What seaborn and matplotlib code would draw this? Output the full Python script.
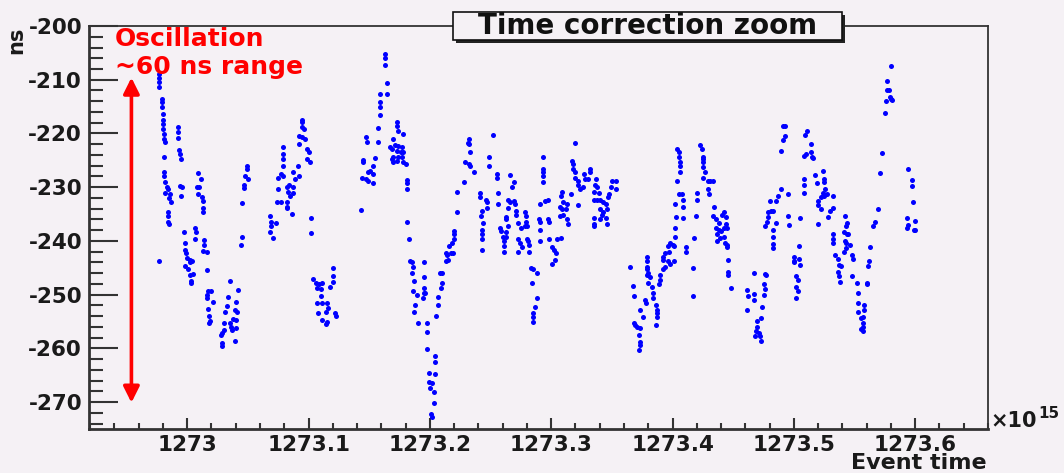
import matplotlib
matplotlib.use("Agg")
import matplotlib.pyplot as plt
from matplotlib.patches import Rectangle
from matplotlib.ticker import MultipleLocator, FuncFormatter
import seaborn as sns
import pandas as pd

# Event time (units of 1e15) and time correction (ns), grouped by burst
burst_a = [
    (1272.977, -209.0), (1272.977, -209.7), (1272.977, -210.4), (1272.977, -211.4),
    (1272.979, -213.6), (1272.979, -214.2), (1272.979, -215.1), (1272.980, -216.4),
    (1272.980, -217.4), (1272.980, -218.3), (1272.980, -219.2), (1272.981, -220.1),
    (1272.981, -221.1), (1272.982, -221.6), (1272.981, -224.3), (1272.981, -227.2),
    (1272.981, -228.0), (1272.982, -229.1), (1272.983, -229.9), (1272.984, -230.4),
    (1272.982, -231.0), (1272.986, -231.3), (1272.985, -232.1), (1272.987, -232.8),
    (1272.984, -234.7), (1272.984, -235.4), (1272.984, -236.4), (1272.985, -236.9),
    (1272.977, -243.7),
    (1272.992, -218.8), (1272.992, -219.8), (1272.992, -220.9), (1272.993, -223.1),
    (1272.994, -223.9), (1272.995, -224.8), (1272.994, -229.7), (1272.996, -229.9),
    (1272.995, -231.7), (1272.997, -238.4), (1272.998, -240.3), (1272.998, -241.6),
    (1272.999, -242.2), (1273.000, -243.1), (1273.002, -243.5), (1273.002, -244.0),
    (1273.004, -243.8), (1272.998, -244.6), (1273.001, -245.3), (1273.002, -246.3),
    (1273.005, -246.1), (1273.003, -247.4), (1273.003, -247.8),
]
burst_b = [
    (1273.009, -227.4), (1273.011, -228.4), (1273.008, -229.9), (1273.010, -229.9),
    (1273.009, -231.3), (1273.012, -231.9), (1273.013, -232.6), (1273.013, -233.8),
    (1273.013, -234.7), (1273.006, -237.5), (1273.007, -238.4), (1273.006, -239.6),
    (1273.014, -239.9), (1273.014, -240.7), (1273.013, -241.8), (1273.016, -242.0),
    (1273.016, -245.5),
    (1273.017, -249.3), (1273.020, -249.4), (1273.016, -250.0), (1273.016, -250.7),
    (1273.021, -251.3), (1273.017, -252.6), (1273.018, -253.9), (1273.019, -254.9),
    (1273.018, -255.2),
    (1273.035, -247.4), (1273.042, -249.1), (1273.034, -250.4), (1273.040, -251.3),
    (1273.033, -252.1), (1273.039, -252.8), (1273.041, -253.2), (1273.031, -253.2),
    (1273.038, -254.5), (1273.040, -254.7), (1273.030, -255.2), (1273.035, -255.2),
    (1273.036, -256.0), (1273.040, -256.2), (1273.030, -256.5), (1273.037, -256.5),
    (1273.029, -257.1), (1273.028, -257.5), (1273.039, -258.6), (1273.029, -259.0),
    (1273.029, -259.5),
    (1273.049, -226.1), (1273.049, -226.7), (1273.048, -228.0), (1273.050, -228.4),
    (1273.047, -229.5), (1273.047, -230.2), (1273.045, -233.0), (1273.045, -239.2),
    (1273.044, -240.7),
]
burst_c = [
    (1273.068, -235.4), (1273.069, -236.4), (1273.073, -236.6), (1273.069, -237.3),
    (1273.068, -238.4), (1273.071, -239.4), (1273.074, -232.8), (1273.077, -232.8),
    (1273.082, -232.8), (1273.082, -233.6), (1273.082, -233.8), (1273.086, -234.9),
    (1273.075, -230.4), (1273.075, -228.2), (1273.077, -227.6), (1273.079, -228.0),
    (1273.079, -226.1), (1273.079, -224.8), (1273.079, -223.9), (1273.079, -222.6),
    (1273.082, -229.9), (1273.084, -229.5), (1273.087, -229.9), (1273.083, -230.8),
    (1273.087, -231.0), (1273.085, -231.7), (1273.087, -227.2), (1273.091, -226.1),
    (1273.092, -228.0), (1273.089, -228.5), (1273.095, -217.4), (1273.095, -217.9),
    (1273.095, -218.8), (1273.096, -219.2), (1273.092, -220.5), (1273.095, -220.7),
    (1273.092, -222.0), (1273.097, -221.1), (1273.099, -222.9), (1273.100, -223.5),
    (1273.099, -224.8), (1273.101, -225.4), (1273.102, -235.8), (1273.102, -238.6),
    (1273.120, -245.1), (1273.120, -246.5), (1273.120, -247.6), (1273.104, -247.0),
    (1273.106, -247.8), (1273.109, -248.1), (1273.111, -247.8), (1273.107, -248.7),
    (1273.110, -248.9), (1273.118, -248.5), (1273.110, -250.2), (1273.107, -251.5),
    (1273.111, -251.5), (1273.115, -251.5), (1273.116, -252.4), (1273.114, -253.2),
    (1273.108, -253.4), (1273.122, -253.5), (1273.123, -253.9), (1273.111, -254.7),
    (1273.115, -255.0), (1273.114, -255.4),
]
burst_d = [
    (1273.163, -205.2), (1273.163, -206.0), (1273.163, -207.3), (1273.165, -210.6),
    (1273.159, -212.7), (1273.165, -212.7), (1273.159, -214.2), (1273.159, -215.1),
    (1273.159, -216.6), (1273.157, -219.0), (1273.147, -220.7), (1273.148, -221.5),
    (1273.157, -221.5), (1273.145, -225.0), (1273.145, -225.4), (1273.155, -224.6),
    (1273.153, -226.1), (1273.151, -226.9), (1273.153, -227.6), (1273.149, -227.1),
    (1273.144, -228.2), (1273.147, -228.5), (1273.149, -228.9), (1273.153, -229.3),
    (1273.143, -234.3),
    (1273.173, -217.9), (1273.173, -218.7), (1273.174, -219.6), (1273.178, -220.1),
    (1273.170, -221.1), (1273.167, -222.6), (1273.171, -222.2), (1273.174, -222.4),
    (1273.177, -222.6), (1273.169, -222.9), (1273.173, -223.3), (1273.176, -223.5),
    (1273.178, -223.5), (1273.170, -224.3), (1273.174, -224.3), (1273.177, -224.4),
    (1273.169, -224.8), (1273.173, -225.2), (1273.178, -225.4), (1273.170, -225.4),
    (1273.180, -225.7), (1273.181, -228.7), (1273.181, -229.3), (1273.181, -230.4),
    (1273.181, -236.4), (1273.183, -239.6),
    (1273.184, -243.8), (1273.185, -244.0), (1273.186, -244.8), (1273.185, -245.9),
    (1273.187, -247.4), (1273.186, -249.3), (1273.189, -250.0), (1273.188, -251.9),
    (1273.187, -253.2), (1273.190, -255.2), (1273.195, -244.0), (1273.195, -246.8),
    (1273.195, -248.7), (1273.195, -249.6), (1273.196, -249.6), (1273.194, -250.7),
    (1273.198, -255.2), (1273.198, -256.9), (1273.198, -260.1), (1273.204, -261.4),
    (1273.204, -262.5), (1273.199, -264.6), (1273.204, -264.7), (1273.199, -266.2),
    (1273.202, -266.4), (1273.200, -267.4), (1273.203, -268.1), (1273.203, -270.1),
    (1273.201, -272.2), (1273.202, -272.8),
    (1273.205, -253.9), (1273.207, -251.9), (1273.207, -250.4), (1273.209, -248.7),
    (1273.210, -247.9), (1273.208, -245.9), (1273.210, -245.9), (1273.213, -243.8),
    (1273.215, -243.5), (1273.214, -242.7), (1273.213, -242.2), (1273.217, -242.2),
    (1273.219, -242.2), (1273.216, -240.9), (1273.218, -240.3), (1273.220, -239.7),
    (1273.220, -238.8), (1273.220, -238.1), (1273.222, -234.7), (1273.222, -230.8),
]
burst_e = [
    (1273.232, -221.1), (1273.232, -222.0), (1273.231, -221.8), (1273.233, -223.5),
    (1273.229, -225.4), (1273.232, -225.7), (1273.233, -226.1), (1273.236, -227.2),
    (1273.228, -229.1), (1273.241, -231.0), (1273.241, -231.9), (1273.243, -234.5),
    (1273.242, -235.4), (1273.244, -236.6), (1273.243, -237.9), (1273.243, -238.8),
    (1273.243, -239.7), (1273.243, -241.6), (1273.246, -232.3), (1273.247, -232.8),
    (1273.247, -233.8), (1273.249, -224.3), (1273.249, -226.1), (1273.252, -220.3),
    (1273.255, -227.6), (1273.255, -228.2), (1273.256, -231.0), (1273.256, -233.2),
    (1273.258, -237.5), (1273.259, -238.2), (1273.260, -239.2), (1273.261, -240.1),
    (1273.261, -241.0), (1273.261, -242.0), (1273.263, -238.4), (1273.263, -239.2),
    (1273.266, -227.8), (1273.268, -230.0), (1273.269, -229.1), (1273.264, -232.3),
    (1273.266, -232.8), (1273.269, -232.6), (1273.270, -233.2), (1273.264, -233.8),
    (1273.263, -235.6), (1273.263, -236.0), (1273.264, -237.3), (1273.271, -234.5),
    (1273.271, -235.1), (1273.273, -236.6), (1273.273, -239.7), (1273.274, -240.3),
    (1273.273, -242.0), (1273.276, -241.2), (1273.275, -237.5), (1273.278, -234.7),
    (1273.279, -235.4), (1273.279, -236.4), (1273.278, -237.3), (1273.280, -237.3),
    (1273.280, -239.7), (1273.281, -240.1), (1273.282, -240.7), (1273.282, -242.0),
    (1273.283, -245.0), (1273.285, -245.3), (1273.288, -245.9), (1273.284, -247.9),
    (1273.288, -250.6), (1273.287, -252.2), (1273.285, -253.4), (1273.285, -254.1),
    (1273.285, -255.0), (1273.291, -233.2), (1273.290, -236.0), (1273.291, -236.4),
    (1273.291, -237.9), (1273.291, -240.1), (1273.293, -224.3), (1273.293, -226.7),
    (1273.293, -227.2), (1273.293, -228.0), (1273.293, -229.1), (1273.295, -232.6),
    (1273.297, -232.3), (1273.297, -236.0), (1273.298, -236.4), (1273.298, -239.7),
    (1273.301, -241.2), (1273.302, -241.6), (1273.303, -243.5), (1273.301, -244.2),
    (1273.304, -242.2), (1273.305, -239.7), (1273.309, -230.8), (1273.308, -231.7),
    (1273.310, -232.8), (1273.307, -233.6), (1273.309, -234.1), (1273.312, -234.1),
    (1273.310, -235.1), (1273.307, -235.4), (1273.313, -236.0), (1273.314, -236.9),
    (1273.308, -239.4), (1273.316, -231.3), (1273.322, -233.4), (1273.313, -233.2),
    (1273.320, -221.8), (1273.317, -225.2), (1273.318, -225.7), (1273.318, -226.7),
    (1273.320, -227.2), (1273.320, -228.2), (1273.322, -228.9), (1273.322, -229.5),
    (1273.326, -230.0), (1273.327, -227.6), (1273.328, -228.5), (1273.324, -230.4),
    (1273.332, -226.7), (1273.332, -227.2), (1273.330, -228.5), (1273.337, -228.5),
    (1273.336, -229.5), (1273.338, -230.0), (1273.335, -230.8), (1273.339, -231.0),
    (1273.338, -232.3), (1273.335, -232.3), (1273.340, -232.3), (1273.343, -232.8),
    (1273.345, -233.2), (1273.348, -231.3), (1273.347, -231.9), (1273.349, -230.0),
    (1273.350, -228.9), (1273.353, -228.9), (1273.353, -230.4), (1273.346, -234.1),
    (1273.340, -234.1), (1273.342, -235.1), (1273.340, -236.0), (1273.345, -235.8),
    (1273.343, -234.7), (1273.335, -235.8), (1273.335, -236.9), (1273.335, -237.3),
    (1273.346, -236.9),
]
burst_f = [
    (1273.365, -244.8), (1273.367, -248.3), (1273.368, -250.2), (1273.368, -255.2),
    (1273.369, -255.6), (1273.371, -256.0), (1273.373, -256.2), (1273.372, -257.5),
    (1273.373, -258.8), (1273.373, -259.3), (1273.372, -260.3), (1273.373, -252.8),
    (1273.376, -254.1), (1273.377, -250.9), (1273.378, -251.5), (1273.379, -242.9),
    (1273.379, -243.8), (1273.379, -244.8), (1273.379, -245.3), (1273.380, -245.9),
    (1273.379, -246.3), (1273.381, -246.8), (1273.380, -247.8), (1273.383, -248.5),
    (1273.384, -249.6), (1273.384, -250.6), (1273.386, -251.9), (1273.387, -252.8),
    (1273.387, -253.4), (1273.387, -254.1), (1273.386, -255.6), (1273.389, -248.1),
    (1273.390, -247.2), (1273.390, -246.3), (1273.392, -245.3), (1273.392, -243.5),
    (1273.392, -242.9), (1273.394, -242.2), (1273.396, -241.0), (1273.398, -240.3),
    (1273.400, -240.7), (1273.401, -241.0), (1273.397, -242.0), (1273.396, -243.8),
    (1273.398, -244.2), (1273.394, -244.8), (1273.401, -243.8), (1273.402, -239.2),
    (1273.402, -237.5), (1273.403, -235.6), (1273.402, -233.2), (1273.405, -231.3),
    (1273.406, -225.4), (1273.405, -223.5), (1273.404, -222.9), (1273.405, -224.4),
    (1273.406, -226.1), (1273.406, -227.1), (1273.404, -228.9), (1273.408, -231.3),
    (1273.409, -232.3), (1273.409, -233.6), (1273.409, -235.8), (1273.411, -241.2),
    (1273.411, -242.0), (1273.417, -250.2), (1273.417, -245.0), (1273.418, -239.4),
    (1273.419, -235.3), (1273.420, -231.0), (1273.420, -232.3), (1273.423, -222.2),
    (1273.424, -222.9), (1273.425, -224.3), (1273.425, -224.8), (1273.425, -225.4),
    (1273.425, -226.3), (1273.427, -227.1), (1273.425, -228.2), (1273.429, -228.9),
    (1273.431, -228.9), (1273.433, -228.9), (1273.429, -230.4), (1273.430, -231.3),
    (1273.434, -233.6), (1273.433, -235.4), (1273.436, -236.0), (1273.438, -236.6),
    (1273.441, -235.1), (1273.442, -234.7), (1273.444, -235.6), (1273.436, -237.5),
    (1273.438, -237.9), (1273.442, -237.5), (1273.445, -237.5), (1273.437, -238.8),
    (1273.439, -239.4), (1273.442, -239.2), (1273.437, -240.1), (1273.445, -240.7),
    (1273.445, -241.2), (1273.444, -236.9), (1273.440, -238.1), (1273.443, -240.3),
    (1273.446, -243.5), (1273.446, -245.7), (1273.446, -246.3), (1273.448, -248.7),
]
burst_g = [
    (1273.461, -249.1), (1273.462, -250.2), (1273.461, -252.8), (1273.467, -245.9),
    (1273.467, -249.8), (1273.467, -250.9), (1273.470, -254.9), (1273.470, -256.0),
    (1273.469, -256.7), (1273.471, -257.1), (1273.468, -257.6), (1273.472, -257.6),
    (1273.473, -258.6), (1273.473, -254.3), (1273.474, -252.2), (1273.475, -250.0),
    (1273.475, -248.1), (1273.476, -246.1), (1273.477, -246.3), (1273.476, -248.9),
    (1273.476, -237.3), (1273.478, -236.4), (1273.479, -234.7), (1273.481, -234.5),
    (1273.479, -235.6), (1273.480, -232.6), (1273.483, -234.5), (1273.485, -236.6),
    (1273.483, -237.9), (1273.483, -239.2), (1273.483, -240.5), (1273.483, -241.4),
    (1273.485, -232.6), (1273.487, -231.7), (1273.489, -230.4), (1273.495, -231.3),
    (1273.495, -235.4), (1273.496, -237.1), (1273.489, -223.3), (1273.491, -221.3),
    (1273.493, -220.5), (1273.491, -218.7), (1273.493, -218.7), (1273.500, -242.9),
    (1273.500, -243.8), (1273.504, -243.3), (1273.500, -244.0), (1273.505, -244.4),
    (1273.504, -240.9), (1273.505, -235.8), (1273.502, -246.6), (1273.503, -247.2),
    (1273.502, -248.5), (1273.503, -249.4), (1273.502, -250.7),
]
burst_h = [
    (1273.508, -231.0), (1273.508, -229.5), (1273.508, -228.5), (1273.508, -224.1),
    (1273.510, -223.9), (1273.509, -220.3), (1273.511, -219.6), (1273.514, -222.0),
    (1273.514, -223.5), (1273.516, -224.6), (1273.515, -224.3), (1273.517, -227.8),
    (1273.519, -229.3), (1273.524, -226.9), (1273.525, -228.5), (1273.525, -229.1),
    (1273.526, -230.4), (1273.527, -231.2), (1273.524, -231.0), (1273.522, -231.9),
    (1273.520, -232.6), (1273.520, -233.4), (1273.522, -234.0), (1273.528, -235.6),
    (1273.530, -234.5), (1273.532, -233.8), (1273.532, -231.7), (1273.520, -236.8),
    (1273.525, -231.7), (1273.532, -238.8), (1273.532, -239.7), (1273.532, -240.3),
    (1273.534, -242.7), (1273.536, -243.3), (1273.537, -244.4), (1273.539, -244.6),
    (1273.536, -245.7), (1273.537, -246.6), (1273.538, -247.6), (1273.542, -235.4),
    (1273.543, -237.3), (1273.544, -236.6), (1273.541, -238.4), (1273.544, -238.8),
    (1273.545, -238.8), (1273.542, -240.1), (1273.543, -240.3), (1273.546, -240.7),
    (1273.541, -242.0), (1273.543, -241.4), (1273.548, -242.7), (1273.549, -243.3),
    (1273.548, -246.6), (1273.552, -247.8), (1273.553, -249.6), (1273.553, -251.5),
    (1273.553, -253.2), (1273.555, -254.3), (1273.557, -255.2), (1273.557, -256.0),
    (1273.557, -256.7), (1273.558, -251.9), (1273.558, -252.8), (1273.557, -254.1),
    (1273.555, -256.3), (1273.560, -248.1), (1273.560, -247.8), (1273.561, -244.6),
    (1273.562, -243.8), (1273.563, -241.2), (1273.565, -237.3), (1273.567, -236.4),
    (1273.569, -234.0), (1273.571, -227.4), (1273.573, -223.7), (1273.575, -216.2),
    (1273.576, -214.0), (1273.579, -213.2), (1273.578, -211.9), (1273.577, -211.9),
    (1273.580, -213.6), (1273.581, -213.8), (1273.577, -210.3), (1273.580, -207.5),
    (1273.594, -226.7), (1273.597, -228.7), (1273.597, -229.7), (1273.598, -232.8),
    (1273.593, -235.8), (1273.600, -236.2), (1273.594, -237.1), (1273.593, -237.5),
    (1273.599, -237.9), (1273.600, -237.9),
]

y_ticks = [-200, -210, -220, -230, -240, -250, -260, -270]
x_ticks = [1273.0, 1273.1, 1273.2, 1273.3, 1273.4, 1273.5, 1273.6]

BG = "#f5f1f5"
INK = "#1a1a1a"

sns.set_theme(style="ticks")
plt.rcParams["font.family"] = ["DejaVu Sans"]
plt.rcParams["axes.unicode_minus"] = False

df = pd.DataFrame(burst_a + burst_b + burst_c + burst_d + burst_e + burst_f + burst_g + burst_h,
                  columns=["event_time", "ns"])

fig = plt.figure(figsize=(10.64, 4.73), dpi=100, facecolor=BG)
ax = fig.add_axes([0.0836, 0.093, 0.845, 0.852])
ax.set_facecolor(BG)

sns.scatterplot(data=df, x="event_time", y="ns", ax=ax, color="#0000ff",
                marker="o", s=13, linewidth=0, legend=False, zorder=3)

ax.set_xlim(1272.919, 1273.660)
ax.set_ylim(-275, -200)
ax.set_xlabel("")
ax.set_ylabel("")

ax.set_yticks(y_ticks)
ax.yaxis.set_minor_locator(MultipleLocator(2))
ax.set_xticks(x_ticks)
ax.xaxis.set_minor_locator(MultipleLocator(0.02))
ax.xaxis.set_major_formatter(FuncFormatter(lambda v, p: f"{v:.1f}".rstrip("0").rstrip(".")))
ax.yaxis.set_major_formatter(FuncFormatter(lambda v, p: f"{v:.0f}"))

ax.tick_params(axis="y", which="major", direction="in", length=21, width=1.5,
               color="#333333", pad=5, labelsize=15.5, right=False)
ax.tick_params(axis="y", which="minor", direction="in", length=10, width=1.5,
               color="#333333", right=False)
ax.tick_params(axis="x", which="major", direction="in", length=8, width=1.5,
               color="#333333", pad=4, labelsize=15.5, top=False)
ax.tick_params(axis="x", which="minor", direction="in", length=4.5, width=1.5,
               color="#333333", top=False)
for lab in ax.get_xticklabels() + ax.get_yticklabels():
    lab.set_fontweight("bold")
    lab.set_color(INK)

for side in ["left", "bottom"]:
    ax.spines[side].set_linewidth(2.0)
    ax.spines[side].set_color("#333333")
for side in ["top", "right"]:
    ax.spines[side].set_linewidth(1.3)
    ax.spines[side].set_color("#333333")

# Range arrow and its note
ax.annotate("", xy=(1272.954, -209.6), xytext=(1272.954, -270.1),
            arrowprops=dict(arrowstyle="<|-|>", color="#ff0000", lw=2.6,
                            mutation_scale=24, shrinkA=0, shrinkB=0), zorder=4)
fig.text(115 / 1064, 1 - 39 / 473, "Oscillation", color="#ff0000", fontsize=18,
         fontweight="bold", ha="left", va="center")
fig.text(115 / 1064, 1 - 67 / 473, "~60 ns range", color="#ff0000", fontsize=18,
         fontweight="bold", ha="left", va="center")

# Title box with a drop shadow, straddling the top of the frame
x0, y0, w, h = 453 / 1064, 1 - 40 / 473, 389 / 1064, 28 / 473
fig.patches.append(Rectangle((x0 + 3 / 1064, y0 - 3 / 473), w, h, transform=fig.transFigure,
                             facecolor="#222222", edgecolor="none", zorder=5))
fig.patches.append(Rectangle((x0, y0), w, h, transform=fig.transFigure,
                             facecolor=BG, edgecolor="#111111", lw=1.2, zorder=6))
fig.text(x0 + w / 2, y0 + h / 2, "Time correction zoom", fontsize=20, fontweight="bold",
         ha="center", va="center", color="#111111", zorder=7)

# Axis titles placed at the ends of the axes
fig.text(16 / 1064, 1 - 27 / 473, "ns", rotation=90, fontsize=15, fontweight="bold",
         ha="center", va="top", color=INK)
fig.text(987 / 1064, 1 - 469 / 473, "Event time", fontsize=16, fontweight="bold",
         ha="right", va="baseline", color=INK)
fig.text(990 / 1064, 1 - 421 / 473, "\u00d710", fontsize=15, fontweight="bold",
         ha="left", va="center", color=INK)
fig.text(1038 / 1064, 1 - 413 / 473, "15", fontsize=11, fontweight="bold",
         ha="left", va="center", color=INK)

fig.savefig("out.png", dpi=100, facecolor=BG)
